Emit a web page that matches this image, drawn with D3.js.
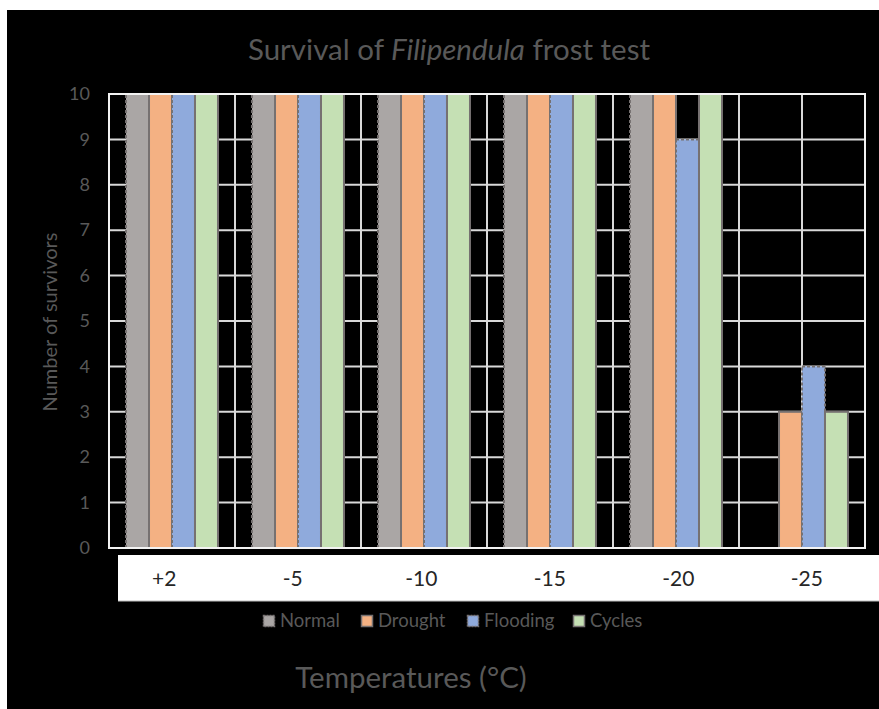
<!DOCTYPE html>
<html>
<head>
<meta charset="utf-8">
<script src="https://cdn.jsdelivr.net/npm/d3@7"></script>
<style>
  html, body { margin: 0; padding: 0; background: #ffffff; }
  svg { display: block; }
  text { font-family: Lato, "Open Sans", "DejaVu Sans", sans-serif; }
</style>
</head>
<body>
<svg id="chart" width="879" height="709"></svg>
<script>
// Temperature treatments (°C) on the category axis
const temperatures = ["+2", "-5", "-10", "-15", "-20", "-25"];
// Pre-treatment series shown in the legend
const seriesNames = ["Normal", "Drought", "Flooding", "Cycles"];
// Number of surviving plants per treatment, one value per temperature
const normal   = [10, 10, 10, 10, 10, 0];
const drought  = [10, 10, 10, 10, 10, 3];
const flooding = [10, 10, 10, 10, 9, 4];
const cycles   = [10, 10, 10, 10, 10, 3];
const yTicks = [0, 1, 2, 3, 4, 5, 6, 7, 8, 9, 10];

const seriesValues = { Normal: normal, Drought: drought, Flooding: flooding, Cycles: cycles };
const fills = { Normal: "#aaa6a5", Drought: "#f4b183", Flooding: "#8faadc", Cycles: "#c5e0b4" };
const dashed = { Normal: "3,2", Drought: null, Flooding: "3,2", Cycles: null };
const textGrey = "#595959";

const svg = d3.select("#chart");

// dark chart background
svg.append("rect").attr("x", 7).attr("y", 10).attr("width", 872).attr("height", 699).attr("fill", "#000");

const plot = { left: 109, right: 865, top: 94, bottom: 548 };

const x0 = d3.scaleBand().domain(temperatures).range([plot.left, plot.right]).padding(0);
const x1 = d3.scaleBand().domain(seriesNames).range([0, x0.bandwidth()]).paddingInner(0).paddingOuter(0.74);
const y = d3.scaleLinear().domain([0, 10]).range([plot.bottom, plot.top]);

// title
const title = svg.append("text")
  .attr("x", 449).attr("y", 60)
  .attr("text-anchor", "middle")
  .attr("font-size", 29.5)
  .attr("fill", textGrey);
title.append("tspan").text("Survival of ");
title.append("tspan").attr("font-style", "italic").text("Filipendula");
title.append("tspan").text(" frost test");

// gridlines
const grid = svg.append("g").attr("stroke", "#d9d9d9").attr("stroke-width", 2);
grid.selectAll("line.h").data(yTicks).join("line")
  .attr("x1", plot.left).attr("x2", plot.right)
  .attr("y1", d => y(d)).attr("y2", d => y(d));
const vPositions = [];
temperatures.forEach(t => {
  vPositions.push(x0(t));
  vPositions.push(x0(t) + x0.bandwidth() / 2);
});
vPositions.push(plot.right);
grid.selectAll("line.v").data(vPositions).join("line")
  .attr("x1", d => d).attr("x2", d => d)
  .attr("y1", plot.top).attr("y2", plot.bottom);

// bars
const barData = [];
temperatures.forEach((t, i) => {
  seriesNames.forEach(s => barData.push({ t, s, v: seriesValues[s][i] }));
});
svg.append("g").selectAll("rect")
  .data(barData.filter(d => d.v > 0))
  .join("rect")
  .attr("x", d => x0(d.t) + x1(d.s))
  .attr("y", d => y(d.v))
  .attr("width", x1.bandwidth())
  .attr("height", d => y(0) - y(d.v))
  .attr("fill", d => fills[d.s])
  .attr("stroke", "#767171")
  .attr("stroke-width", 2)
  .attr("stroke-dasharray", d => dashed[d.s]);

// y axis
const yAxis = d3.axisLeft(y).tickValues(yTicks).tickSize(0).tickPadding(19);
const yg = svg.append("g").attr("transform", `translate(${plot.left},0)`).call(yAxis);
yg.select(".domain").remove();
yg.selectAll("text").attr("font-size", 18).attr("fill", textGrey)
  .style("font-family", "Lato, 'Open Sans', sans-serif");

// y axis title
svg.append("text")
  .attr("transform", "translate(57,322) rotate(-90)")
  .attr("text-anchor", "middle")
  .attr("font-size", 20)
  .attr("fill", textGrey)
  .text("Number of survivors");

// category label band
svg.append("rect").attr("x", 118).attr("y", 555).attr("width", 761).attr("height", 46)
  .attr("fill", "#fff");
svg.append("line").attr("x1", 118).attr("x2", 879).attr("y1", 601).attr("y2", 601)
  .attr("stroke", "#bfbfbf").attr("stroke-width", 1);
const xLabel = d3.scaleBand().domain(temperatures).range([100, 871]);
const xAxis = d3.axisBottom(xLabel).tickSize(0).tickPadding(0);
const xg = svg.append("g").attr("transform", "translate(0,571)").call(xAxis);
xg.select(".domain").remove();
xg.selectAll("text").attr("font-size", 21).attr("fill", "#262626")
  .style("font-family", "Lato, 'Open Sans', sans-serif");

// plot frame
svg.append("rect")
  .attr("x", plot.left).attr("y", plot.top)
  .attr("width", plot.right - plot.left).attr("height", plot.bottom - plot.top)
  .attr("fill", "none").attr("stroke", "#f2f2f2").attr("stroke-width", 2);

// legend
const legendX = [263, 361, 467, 573];
const legend = svg.append("g");
seriesNames.forEach((s, i) => {
  const g = legend.append("g").attr("transform", `translate(${legendX[i]},615)`);
  g.append("rect").attr("x", 0.5).attr("y", 0.5).attr("width", 11).attr("height", 11)
    .attr("fill", fills[s]).attr("stroke", "#767171").attr("stroke-width", 1.5)
    .attr("stroke-dasharray", dashed[s] ? "2,1" : null);
  g.append("text").attr("x", 17).attr("y", 12).attr("font-size", 18.5)
    .attr("fill", textGrey).text(s);
});

// x axis title
svg.append("text")
  .attr("x", 411).attr("y", 688)
  .attr("text-anchor", "middle")
  .attr("font-size", 29.5)
  .attr("fill", textGrey)
  .text("Temperatures (°C)");
</script>
</body>
</html>
